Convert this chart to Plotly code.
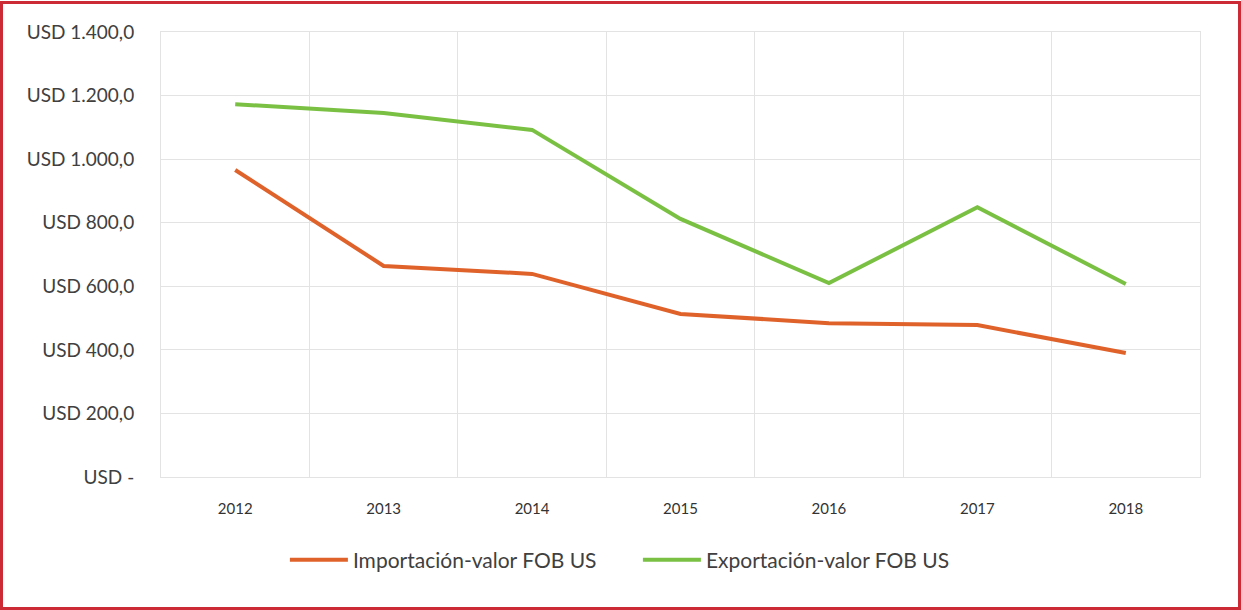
import plotly.graph_objects as go

years = ["2012", "2013", "2014", "2015", "2016", "2017", "2018"]
importacion = [966, 664, 639, 513, 484, 478, 390]
exportacion = [1173, 1145, 1092, 812, 610, 849, 607]
y_tickvals = [0, 200, 400, 600, 800, 1000, 1200, 1400]
y_ticktext = ["USD -", "USD 200,0", "USD 400,0", "USD 600,0", "USD 800,0",
              "USD 1.000,0", "USD 1.200,0", "USD 1.400,0"]

fig = go.Figure()
fig.add_trace(go.Scatter(x=years, y=importacion, mode="lines",
                         name="Importación-valor FOB US",
                         line=dict(color="#e0622b", width=4)))
fig.add_trace(go.Scatter(x=years, y=exportacion, mode="lines",
                         name="Exportación-valor FOB US",
                         line=dict(color="#7ac143", width=4)))

fig.update_layout(
    width=1241, height=610,
    margin=dict(l=161, r=41, t=32, b=133),
    paper_bgcolor="white", plot_bgcolor="white",
    font=dict(family="Lato, sans-serif", color="#404040"),
    legend=dict(orientation="h", x=0.459, xanchor="center", y=-0.187, yanchor="middle",
                font=dict(size=21, color="#404040"), itemwidth=58,
                entrywidth=280, entrywidthmode="pixels"),
    xaxis=dict(type="category", range=[-0.5, 6.5], tickson="boundaries", showgrid=True,
               gridcolor="#e3e3e3", gridwidth=1, ticks="",
               showline=True, linecolor="#e3e3e3", mirror=True,
               tickfont=dict(size=15, color="#333333"), ticklabelstandoff=18),
    yaxis=dict(range=[0, 1400], tickvals=y_tickvals, ticktext=y_ticktext,
               showgrid=True, gridcolor="#e3e3e3", gridwidth=1,
               showline=True, linecolor="#e3e3e3", mirror=True, zeroline=False,
               tickfont=dict(size=19, color="#404040"), ticklabelstandoff=22),
    showlegend=True,
)

# outer red frame
fig.add_shape(type="rect", xref="paper", yref="paper",
              x0=(1.5 - 161) / 1039, x1=(1239.5 - 161) / 1039,
              y0=(477 - 608.5) / 445, y1=(477 - 2.5) / 445,
              line=dict(color="#cc2b36", width=3), layer="below")

fig.write_html("out.html", config={"displayModeBar": False},
               post_script="document.body.style.margin='0';document.body.style.overflow='hidden';")
